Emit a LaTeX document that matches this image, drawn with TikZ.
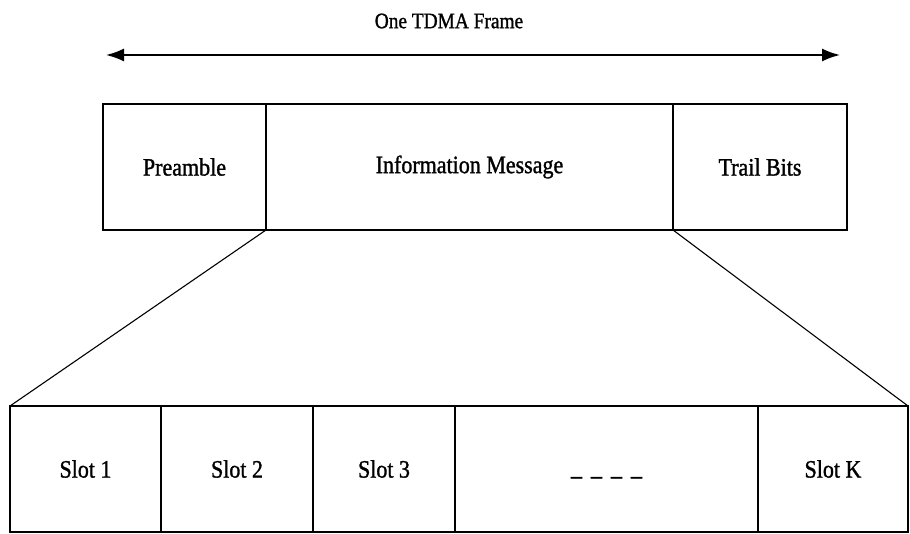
\documentclass[tikz,border=0pt]{standalone}
\usepackage{fontspec}
\setmainfont{Liberation Serif}[FakeStretch=0.88,FakeBold=1.2]
\usetikzlibrary{arrows.meta}
\tikzset{
  cell/.style={draw,line width=1.1pt,inner sep=0pt,outer sep=0pt,anchor=north west,minimum height=126pt,font=\fontsize{25}{30}\selectfont},
}

\begin{document}
\begin{tikzpicture}[x=1pt,y=-1pt,every node/.style={font=\fontsize{22}{26}\selectfont}]
    \useasboundingbox (0,0) rectangle (910,534);

    % frame length
    \node (title) at (449,21) {One TDMA Frame};
    \coordinate (fl) at (106,55);
    \coordinate (fr) at (840,55);
    \draw[line width=1.8pt,{Latex[length=18pt,width=13pt]}-{Latex[length=18pt,width=13pt]}] (fl) -- (fr);

    % frame fields
    \node[cell,minimum width=163pt] (pre) at (103,104) {Preamble};
    \node[cell,minimum width=407pt] (info) at (266,104) {Information Message};
    \node[cell,minimum width=174pt] (trail) at (673,104) {Trail Bits};

    % slots of the message
    \foreach \x/\w/\id/\lbl in {
      10/151/1/{Slot 1},
      161/152/2/{Slot 2},
      313/142/3/{Slot 3},
      455/303/d/{\vphantom{Slot}\smash{\raisebox{-6pt}{--\hspace{9pt}--\hspace{9pt}--\hspace{9pt}--}}},
      758/150/K/{Slot K}
    } {
      \node[cell,minimum width=\w pt] (slot\id) at (\x,406) {\lbl};
    }

    \draw[line width=1.1pt] (info.south west) -- (slot1.north west);
    \draw[line width=1.1pt] (info.south east) -- (slotK.north east);
  \end{tikzpicture}
\end{document}
